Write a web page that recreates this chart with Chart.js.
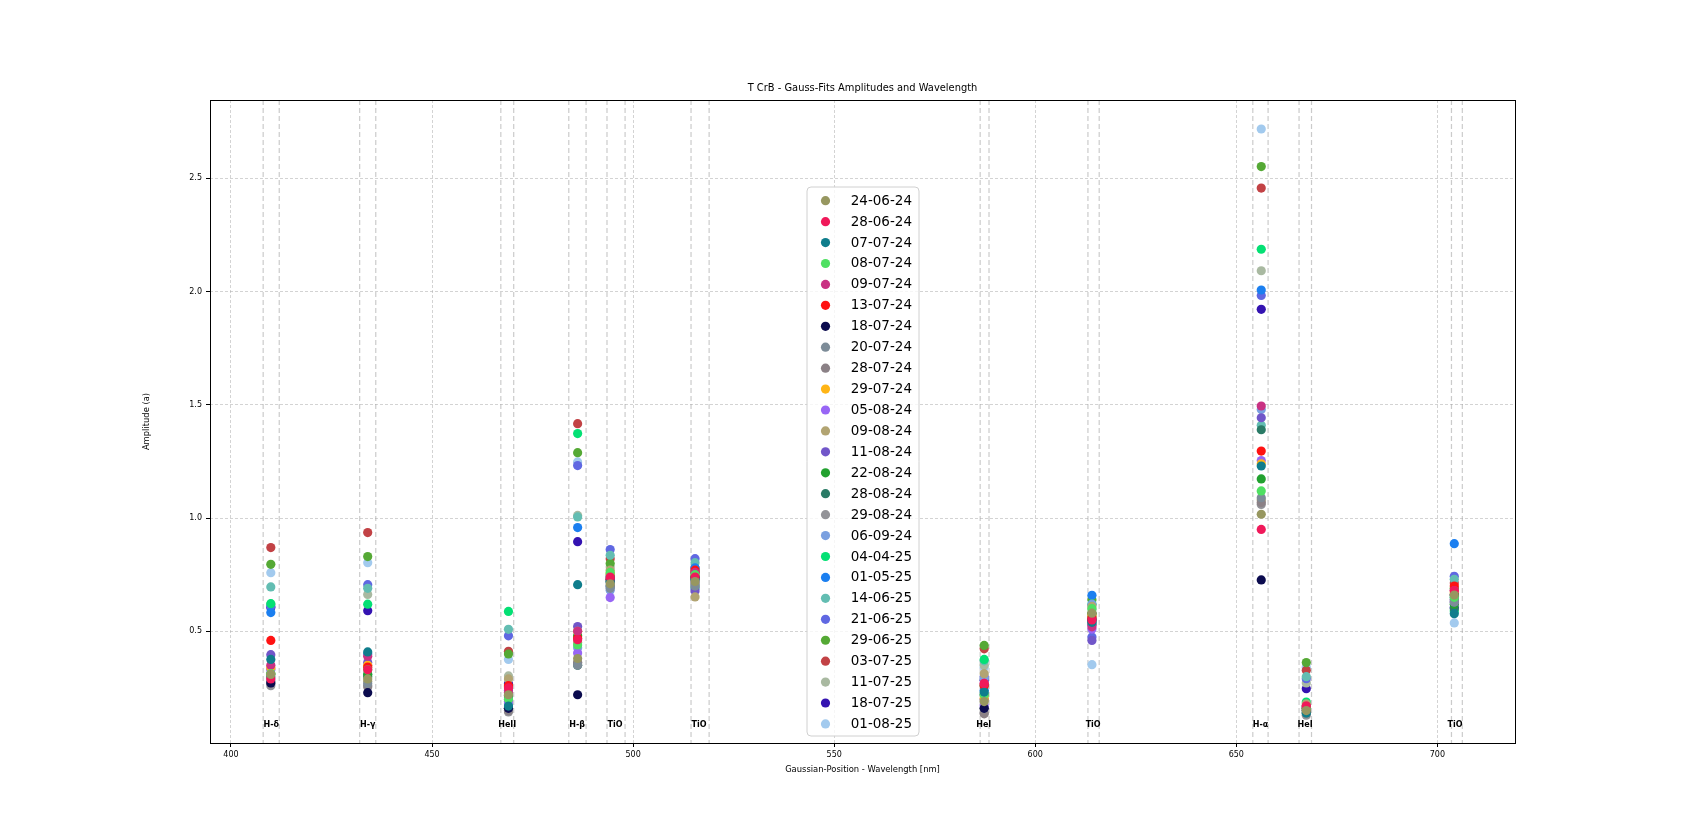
<!DOCTYPE html>
<html>
<head>
<meta charset="utf-8">
<script src="https://cdn.jsdelivr.net/npm/chart.js@4.4.0/dist/chart.umd.min.js"></script>
<style>
  html, body { margin: 0; padding: 0; background: #fff; }
  canvas { display: block; }
</style>
</head>
<body>
<canvas id="chart" width="1682" height="835"></canvas>
<script>
// observation dates (one series per date)
const dates = ['24-06-24', '28-06-24', '07-07-24', '08-07-24', '09-07-24', '13-07-24', '18-07-24',
  '20-07-24', '28-07-24', '29-07-24', '05-08-24', '09-08-24', '11-08-24', '22-08-24', '28-08-24',
  '29-08-24', '06-09-24', '04-04-25', '01-05-25', '14-06-25', '21-06-25', '29-06-25', '03-07-25',
  '11-07-25', '18-07-25', '01-08-25'];

const dateColors = ['#979760', '#f0195a', '#0f7d8c', '#4fe062', '#c93283', '#ff1212', '#0b0b4e',
  '#7d8c98', '#8b8186', '#ffb516', '#9866f5', '#b2a472', '#7156c9', '#22a12f', '#2a7b66',
  '#929297', '#7aa0e0', '#04e074', '#1b7ff0', '#63bdb2', '#6068e2', '#55a935', '#c24245',
  '#a9b9a1', '#3413b1', '#a2caee'];

// spectral lines
const lineNames = ['H-δ', 'H-γ', 'HeII', 'H-β', 'TiO', 'TiO', 'HeI', 'TiO', 'H-α', 'HeI', 'TiO'];
const lineCenters = [409.9, 434.0, 469.0, 486.2, 494.3, 515.4, 587.3, 614.1, 656.2, 667.4, 704.2];
const labelPos = [410.0, 434.0, 468.7, 486.1, 495.5, 516.4, 587.2, 614.4, 656.0, 667.1, 704.4];
const lineWindows = [[408.0, 412.0], [432.0, 436.0], [467.1, 470.3], [484.0, 488.3], [493.5, 498.0],
  [514.4, 518.9], [586.3, 588.5], [613.1, 615.9], [654.1, 657.9], [665.6, 668.7], [703.5, 706.2]];
const labelY = 0.089;

// amplitudes per line, in the order of dates
const ampHd = [0.31, 0.29, 0.376, 0.313, 0.35, 0.46, 0.272, 0.28, 0.27, 0.34, 0.33, 0.335, 0.397,
  0.313, 0.30, 0.26, 0.29, 0.622, 0.583, 0.696, 0.61, 0.796, 0.87, 0.62, 0.605, 0.759];
const ampHg = [0.29, 0.33, 0.409, 0.33, 0.39, 0.342, 0.229, 0.27, 0.26, 0.35, 0.35, 0.28, 0.362,
  0.31, 0.30, 0.254, 0.309, 0.62, 0.40, 0.69, 0.706, 0.83, 0.936, 0.663, 0.591, 0.803];
const ampHeII = [0.22, 0.25, 0.17, 0.20, 0.23, 0.26, 0.16, 0.16, 0.15, 0.255, 0.19, 0.29, 0.239,
  0.217, 0.159, 0.144, 0.18, 0.588, 0.21, 0.509, 0.48, 0.40, 0.412, 0.303, 0.269, 0.376];
const ampHb = [0.38, 0.463, 0.706, 0.44, 0.50, 0.47, 0.22, 0.35, 0.36, 0.50, 0.404, 0.451, 0.521,
  0.481, 0.35, 0.364, 0.428, 1.373, 0.958, 1.005, 1.232, 1.289, 1.417, 1.012, 0.896, 1.248];
const ampTiO494 = [0.71, 0.74, 0.72, 0.76, 0.73, 0.73, 0.73, 0.69, 0.70, 0.755, 0.649, 0.77, 0.718,
  0.72, 0.75, 0.70, 0.681, 0.74, 0.70, 0.836, 0.861, 0.80, 0.82, 0.784, 0.74, 0.696];
const ampTiO515 = [0.72, 0.74, 0.73, 0.75, 0.76, 0.77, 0.74, 0.70, 0.71, 0.75, 0.72, 0.652, 0.678,
  0.74, 0.73, 0.70, 0.69, 0.693, 0.78, 0.803, 0.821, 0.76, 0.78, 0.77, 0.759, 0.71];
const ampHeI587 = [0.19, 0.27, 0.232, 0.22, 0.27, 0.26, 0.16, 0.16, 0.136, 0.203, 0.173, 0.313, 0.20,
  0.261, 0.22, 0.14, 0.29, 0.376, 0.24, 0.37, 0.30, 0.438, 0.423, 0.35, 0.284, 0.342];
const ampTiO614 = [0.58, 0.55, 0.54, 0.60, 0.52, 0.56, 0.55, 0.55, 0.53, 0.57, 0.51, 0.61, 0.46,
  0.58, 0.56, 0.54, 0.62, 0.62, 0.659, 0.57, 0.475, 0.64, 0.578, 0.596, 0.53, 0.353];
const ampHa = [1.017, 0.95, 1.23, 1.12, 1.495, 1.296, 0.727, 1.09, 1.069, 1.24, 1.254, 1.08, 1.443,
  1.173, 1.39, 1.06, 1.48, 2.187, 2.007, 1.41, 1.983, 2.552, 2.457, 2.092, 1.922, 2.718];
const ampHeI667 = [0.15, 0.17, 0.14, 0.16, 0.17, 0.16, 0.15, 0.15, 0.14, 0.17, 0.16, 0.18, 0.17,
  0.16, 0.14, 0.13, 0.16, 0.188, 0.166, 0.30, 0.291, 0.362, 0.328, 0.272, 0.247, 0.342];
const ampTiO704 = [0.66, 0.68, 0.578, 0.65, 0.68, 0.70, 0.66, 0.63, 0.64, 0.67, 0.63, 0.66, 0.64,
  0.62, 0.60, 0.63, 0.65, 0.59, 0.887, 0.73, 0.743, 0.69, 0.713, 0.663, 0.605, 0.537];

const amps = [ampHd, ampHg, ampHeII, ampHb, ampTiO494, ampTiO515, ampHeI587, ampTiO614, ampHa, ampHeI667, ampTiO704];

const xTicks = [400, 450, 500, 550, 600, 650, 700];
const yTicks = [0.5, 1.0, 1.5, 2.0, 2.5];

const FONT = '"DejaVu Sans", sans-serif';
const PT_R = 4.6;

const datasets = dates.map((d, i) => ({
  label: d,
  data: lineCenters.map((x, j) => ({ x: x, y: amps[j][i] })),
  backgroundColor: dateColors[i],
  borderColor: dateColors[i],
  pointRadius: PT_R,
  pointBorderWidth: 0,
  showLine: false
}));

const overlay = {
  id: 'overlay',
  beforeDatasetsDraw(chart) {
    const { ctx, chartArea: a, scales: { x } } = chart;
    ctx.save();
    ctx.strokeStyle = 'rgba(160,160,160,0.55)';
    ctx.lineWidth = 1.2;
    ctx.setLineDash([5, 3]);
    lineWindows.forEach(w => w.forEach(v => {
      const px = x.getPixelForValue(v);
      ctx.beginPath();
      ctx.moveTo(px, a.top);
      ctx.lineTo(px, a.bottom);
      ctx.stroke();
    }));
    ctx.restore();
  },
  afterDatasetsDraw(chart) {
    const { ctx, scales: { x, y } } = chart;
    ctx.save();
    ctx.fillStyle = '#000';
    ctx.font = 'bold 8px ' + FONT;
    ctx.textAlign = 'center';
    ctx.textBaseline = 'middle';
    lineNames.forEach((n, i) => ctx.fillText(n, x.getPixelForValue(labelPos[i]), y.getPixelForValue(labelY)));
    ctx.restore();
  },
  afterDraw(chart) {
    const { ctx, chartArea: a } = chart;
    ctx.save();
    // frame
    ctx.strokeStyle = '#000';
    ctx.lineWidth = 1;
    ctx.strokeRect(Math.round(a.left) + 0.5, Math.round(a.top) + 0.5,
      Math.round(a.right - a.left), Math.round(a.bottom - a.top));

    // titles
    ctx.fillStyle = '#000';
    ctx.textAlign = 'center';
    ctx.textBaseline = 'middle';
    ctx.font = '9.9px ' + FONT;
    ctx.fillText('T CrB - Gauss-Fits Amplitudes and Wavelength', (a.left + a.right) / 2, 88);
    ctx.font = '8.4px ' + FONT;
    ctx.fillText('Gaussian-Position - Wavelength [nm]', (a.left + a.right) / 2, 770);
    ctx.save();
    ctx.translate(147, (a.top + a.bottom) / 2);
    ctx.rotate(-Math.PI / 2);
    ctx.fillText('Amplitude (a)', 0, 0);
    ctx.restore();

    // legend box
    const lx = 807, ly = 187, lw = 112, lh = 549, r = 4;
    ctx.beginPath();
    ctx.moveTo(lx + r, ly);
    ctx.arcTo(lx + lw, ly, lx + lw, ly + lh, r);
    ctx.arcTo(lx + lw, ly + lh, lx, ly + lh, r);
    ctx.arcTo(lx, ly + lh, lx, ly, r);
    ctx.arcTo(lx, ly, lx + lw, ly, r);
    ctx.closePath();
    ctx.fillStyle = 'rgba(255,255,255,0.8)';
    ctx.fill();
    ctx.strokeStyle = '#d0d0d0';
    ctx.stroke();
    ctx.font = '13.5px ' + FONT;
    ctx.textAlign = 'right';
    dates.forEach((d, i) => {
      const cy = 200.7 + i * 20.93;
      ctx.beginPath();
      ctx.arc(825.5, cy, PT_R, 0, Math.PI * 2);
      ctx.fillStyle = dateColors[i];
      ctx.fill();
      ctx.fillStyle = '#000';
      ctx.fillText(d, 912, cy + 0.5);
    });
    ctx.restore();
  }
};

new Chart(document.getElementById('chart'), {
  type: 'scatter',
  data: { datasets: datasets },
  options: {
    responsive: false,
    animation: false,
    events: [],
    layout: { padding: { left: 0, right: 167, top: 100, bottom: 0 } },
    plugins: { legend: { display: false }, tooltip: { enabled: false } },
    scales: {
      x: {
        type: 'linear',
        min: 394.78,
        max: 719.3,
        afterBuildTicks: s => { s.ticks = xTicks.map(v => ({ value: v })); },
        afterFit: s => { s.height = 92; },
        ticks: { color: '#000', font: { family: FONT, size: 8 }, padding: 3, maxRotation: 0,
          callback: v => String(v) },
        grid: { color: 'rgba(176,176,176,0.7)', lineWidth: 0.8, tickColor: '#000', tickLength: 4,
          tickWidth: 1, tickBorderDash: [] },
        border: { display: false, dash: [3, 2] }
      },
      y: {
        type: 'linear',
        min: 0.007,
        max: 2.846,
        afterBuildTicks: s => { s.ticks = yTicks.map(v => ({ value: v })); },
        afterFit: s => { s.width = 210; },
        ticks: { color: '#000', font: { family: FONT, size: 8 }, padding: 4,
          callback: v => v.toFixed(1) },
        grid: { color: 'rgba(176,176,176,0.7)', lineWidth: 0.8, tickColor: '#000', tickLength: 4,
          tickWidth: 1, tickBorderDash: [] },
        border: { display: false, dash: [3, 2] }
      }
    }
  },
  plugins: [overlay]
});
</script>
</body>
</html>
